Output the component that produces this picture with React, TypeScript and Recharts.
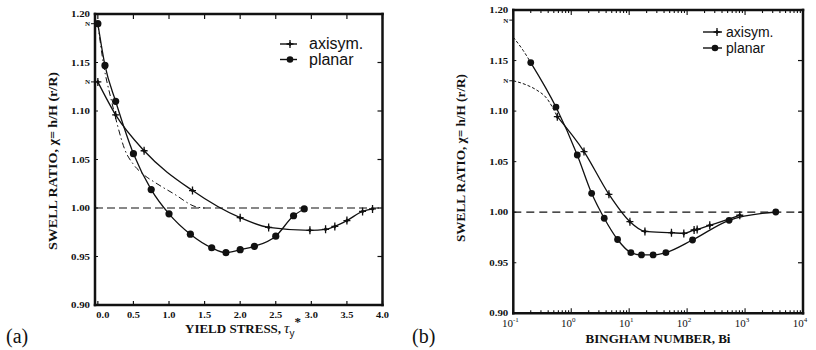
import React from 'react';
import { ComposedChart, Line, XAxis, YAxis, ReferenceLine, Legend } from 'recharts';

// ---------- Panel (a): swell ratio vs yield stress ----------
const A_PLANAR_X = [0, 0.1, 0.25, 0.5, 0.75, 1.0, 1.3, 1.6, 1.8, 2.0, 2.2, 2.5, 2.75, 2.9];
const A_PLANAR_Y = [1.19, 1.147, 1.11, 1.056, 1.019, 0.994, 0.973, 0.959, 0.954, 0.957, 0.9605, 0.971, 0.992, 0.999];
const A_AXI_X = [0, 0.25, 0.65, 1.33, 2.0, 2.4, 2.98, 3.2, 3.33, 3.5, 3.72, 3.86];
const A_AXI_Y = [1.13, 1.096, 1.059, 1.018, 0.99, 0.98, 0.977, 0.978, 0.981, 0.987, 0.9965, 0.999];
const A_DASHDOT_X = [0, 0.08, 0.19, 0.27, 0.38, 0.5, 0.65, 0.81, 1.06, 1.39, 1.5];
const A_DASHDOT_Y = [1.19, 1.148, 1.111, 1.087, 1.06, 1.045, 1.034, 1.026, 1.015, 1.001, 1.0];
const A_X_TICKS = [0, 0.5, 1.0, 1.5, 2.0, 2.5, 3.0, 3.5, 4.0];

// ---------- Panel (b): swell ratio vs Bingham number ----------
const B_PLANAR_X = [0.2, 0.545, 1.27, 2.25, 3.71, 6.3, 10.7, 16.3, 25.9, 43, 124, 530, 3390];
const B_PLANAR_Y = [1.148, 1.104, 1.0566, 1.0187, 0.994, 0.973, 0.96, 0.9577, 0.9577, 0.96, 0.9725, 0.992, 1.0002];
const B_AXI_X = [0.575, 1.66, 4.47, 10.3, 18.7, 53.7, 87.7, 132, 149, 246, 811];
const B_AXI_Y = [1.0945, 1.06, 1.0177, 0.9906, 0.981, 0.9797, 0.979, 0.9824, 0.983, 0.987, 0.997];
const B_EXT_PLANAR_X = [0.1, 0.148, 0.2];
const B_EXT_PLANAR_Y = [1.173, 1.16, 1.148];
const B_EXT_AXI_X = [0.1, 0.17, 0.253, 0.377, 0.575];
const B_EXT_AXI_Y = [1.13, 1.1258, 1.1208, 1.1127, 1.0945];
const B_DECADES = [0.1, 1, 10, 100, 1000, 10000];
const B_EXPONENTS = ['-1', '0', '1', '2', '3', '4'];

// ---------- shared ----------
const Y_TICKS = [0.9, 0.95, 1.0, 1.05, 1.1, 1.15, 1.2];
const N_TICKS = [1.13, 1.19];
const SERIES_NAMES = ['axisym.', 'planar'];

const zip = (xs: number[], ys: number[]) => xs.map((x, i) => ({ x, y: ys[i] }));

const aPlanar = zip(A_PLANAR_X, A_PLANAR_Y);
const aAxi = zip(A_AXI_X, A_AXI_Y);
const aDashDot = zip(A_DASHDOT_X, A_DASHDOT_Y);
const bPlanar = zip(B_PLANAR_X, B_PLANAR_Y);
const bAxi = zip(B_AXI_X, B_AXI_Y);
const bExtPlanar = zip(B_EXT_PLANAR_X, B_EXT_PLANAR_Y);
const bExtAxi = zip(B_EXT_AXI_X, B_EXT_AXI_Y);

const bAllTicks: number[] = [];
B_DECADES.forEach((d, i) => {
  bAllTicks.push(d);
  if (i < B_DECADES.length - 1) for (let k = 2; k <= 9; k++) bAllTicks.push(+(d * k).toPrecision(3));
});

const INK = '#111';
const SERIF = "'Liberation Serif', 'Times New Roman', serif";
const SANS = "'Liberation Sans', Arial, sans-serif";
const FRAME = { stroke: INK, strokeWidth: 2.5, strokeLinecap: 'square' as const };

const PlusMark = ({ cx, cy }: { cx: number; cy: number }) => (
  <g>
    <path d={`M${cx},${cy - 4} L${cx},${cy + 4} M${cx - 3.5},${cy} L${cx + 3.5},${cy}`} stroke={INK} strokeWidth={1.3} />
    <path d={`M${cx},${cy - 2.3} L${cx + 2},${cy} L${cx},${cy + 2.3} L${cx - 2},${cy} Z`} fill={INK} />
  </g>
);
const CircleMark = ({ cx, cy, r }: { cx: number; cy: number; r: number }) => <circle cx={cx} cy={cy} r={r} fill={INK} />;

const plusDot = (p: any) => <PlusMark key={`p${p.index}`} cx={p.cx} cy={p.cy} />;
const circDotA = (p: any) => <CircleMark key={`c${p.index}`} cx={p.cx} cy={p.cy} r={3.6} />;
const circDotB = (p: any) => <CircleMark key={`c${p.index}`} cx={p.cx} cy={p.cy} r={3.4} />;

const isN = (v: number) => N_TICKS.some((n) => Math.abs(n - v) < 1e-6);

const LeftTick = (props: any) => {
  const { x, y, payload } = props;
  const v = payload.value as number;
  if (isN(v)) {
    return (
      <g>
        <line x1={x - 4} x2={x} y1={y} y2={y} stroke={INK} strokeWidth={1} />
        <text x={x - 5} y={y} dy={2.5} textAnchor="end" fontSize={7} fontWeight="bold" fontFamily={SERIF} fill={INK}>N</text>
      </g>
    );
  }
  return (
    <g>
      <line x1={x} x2={x + 3} y1={y} y2={y} stroke={INK} strokeWidth={1} />
      <text x={x - 5} y={y} dy={3} textAnchor="end" fontSize={9} fontWeight="bold" fontFamily={SERIF} fill={INK} textLength={19} lengthAdjust="spacingAndGlyphs">{v.toFixed(2)}</text>
    </g>
  );
};

const RightTick = (props: any) => {
  const { x, y } = props;
  return <line x1={x - 5} x2={x} y1={y} y2={y} stroke={INK} strokeWidth={1.2} />;
};

const TopTickA = (props: any) => {
  const { x, y } = props;
  return <line x1={x} x2={x} y1={y} y2={y + 5} stroke={INK} strokeWidth={1.2} />;
};

const BottomTickA = (props: any) => {
  const { x, y, payload } = props;
  const v = payload.value as number;
  const dx = v === 0 ? 5 : 0;
  return (
    <g>
      <line x1={x} x2={x} y1={y} y2={y - 4} stroke={INK} strokeWidth={1.2} />
      <text x={x + dx} y={y + 13} textAnchor="middle" fontSize={9} fontWeight="bold" fontFamily={SERIF} fill={INK} textLength={13} lengthAdjust="spacingAndGlyphs">{v.toFixed(1)}</text>
    </g>
  );
};

const isDecade = (v: number) => B_DECADES.some((d) => Math.abs(d - v) / d < 1e-6);

const TopTickB = (props: any) => {
  const { x, y, payload } = props;
  const len = isDecade(payload.value) ? 5 : 3;
  return <line x1={x} x2={x} y1={y} y2={y + len} stroke={INK} strokeWidth={1.1} />;
};

const BottomTickB = (props: any) => {
  const { x, y, payload } = props;
  const v = payload.value as number;
  const di = B_DECADES.findIndex((d) => Math.abs(d - v) / d < 1e-6);
  const len = di >= 0 ? 5 : 3;
  return (
    <g>
      <line x1={x} x2={x} y1={y} y2={y - len} stroke={INK} strokeWidth={1.1} />
      {di >= 0 && (
        <text x={x - 3} y={y + 13.5} textAnchor="middle" fontSize={11} fontFamily={SERIF} fill={INK}>
          10<tspan dy={-5} fontSize={7}>{B_EXPONENTS[di]}</tspan>
        </text>
      )}
    </g>
  );
};

const LegendA = () => (
  <svg width={110} height={40} style={{ display: 'block', overflow: 'visible' }}>
    <line x1={2} x2={19} y1={10} y2={10} stroke={INK} strokeWidth={1.4} />
    <PlusMark cx={12} cy={10} />
    <text x={31} y={15} fontSize={16} fontFamily={SANS} fill={INK}>{SERIES_NAMES[0]}</text>
    <line x1={2} x2={19} y1={25.5} y2={25.5} stroke={INK} strokeWidth={1.4} />
    <CircleMark cx={12} cy={25.5} r={3.3} />
    <text x={31} y={30.5} fontSize={16} fontFamily={SANS} fill={INK}>{SERIES_NAMES[1]}</text>
  </svg>
);

const LegendB = () => (
  <svg width={110} height={40} style={{ display: 'block', overflow: 'visible' }}>
    <line x1={2} x2={21} y1={10} y2={10} stroke={INK} strokeWidth={1.4} />
    <PlusMark cx={16} cy={10} />
    <text x={25} y={14.5} fontSize={14} fontFamily={SANS} fill={INK}>{SERIES_NAMES[0]}</text>
    <line x1={2} x2={21} y1={26} y2={26} stroke={INK} strokeWidth={1.4} />
    <CircleMark cx={14} cy={26} r={3.3} />
    <text x={25} y={30.5} fontSize={14} fontFamily={SANS} fill={INK}>{SERIES_NAMES[1]}</text>
  </svg>
);

const yTicksAll = [...Y_TICKS, ...N_TICKS].sort((a, b) => a - b);

const PanelA = () => (
  <ComposedChart width={410} height={350} margin={{ left: 94, right: 26.5, top: 13, bottom: 44 }}>
    <XAxis xAxisId="b" type="number" dataKey="x" domain={[-0.04, 4.0]} ticks={A_X_TICKS} interval={0} allowDataOverflow
      height={1} tickSize={0} tickMargin={0} tickLine={false} axisLine={FRAME} tick={BottomTickA} />
    <XAxis xAxisId="t" orientation="top" type="number" dataKey="x" domain={[-0.04, 4.0]} ticks={A_X_TICKS} interval={0} allowDataOverflow
      height={1} tickSize={0} tickMargin={0} tickLine={false} axisLine={FRAME} tick={TopTickA} />
    <YAxis yAxisId="l" type="number" domain={[0.9, 1.2]} ticks={yTicksAll} interval={0} allowDataOverflow
      width={1} tickSize={0} tickMargin={0} tickLine={false} axisLine={FRAME} tick={LeftTick} />
    <YAxis yAxisId="r" orientation="right" type="number" domain={[0.9, 1.2]} ticks={Y_TICKS} interval={0} allowDataOverflow
      width={1} tickSize={0} tickMargin={0} tickLine={false} axisLine={FRAME} tick={RightTick} />
    <ReferenceLine xAxisId="b" yAxisId="l" y={1.0} stroke={INK} strokeWidth={1.2} strokeDasharray="8 4" />
    <Line xAxisId="b" yAxisId="l" data={aDashDot} dataKey="y" type="monotone" stroke={INK} strokeWidth={1}
      strokeDasharray="6 3 1.5 3" dot={false} isAnimationActive={false} legendType="none" />
    <Line xAxisId="b" yAxisId="l" data={aAxi} dataKey="y" name={SERIES_NAMES[0]} type="monotone" stroke={INK} strokeWidth={1.3}
      dot={plusDot} isAnimationActive={false} />
    <Line xAxisId="b" yAxisId="l" data={aPlanar} dataKey="y" name={SERIES_NAMES[1]} type="monotone" stroke={INK} strokeWidth={1.3}
      dot={circDotA} isAnimationActive={false} />
    <Legend layout="vertical" align="center" verticalAlign="middle" content={<LegendA />}
      wrapperStyle={{ position: 'absolute', left: 278, top: 34, width: 110, height: 40 }} />
  </ComposedChart>
);

const PanelB = () => (
  <ComposedChart width={406} height={350} margin={{ left: 102.3, right: 12, top: 9, bottom: 35.7 }}>
    <XAxis xAxisId="b" type="number" scale="log" dataKey="x" domain={[0.1, 10000]} ticks={bAllTicks} interval={0} allowDataOverflow
      height={1} tickSize={0} tickMargin={0} tickLine={false} axisLine={FRAME} tick={BottomTickB} />
    <XAxis xAxisId="t" orientation="top" type="number" scale="log" dataKey="x" domain={[0.1, 10000]} ticks={bAllTicks} interval={0} allowDataOverflow
      height={1} tickSize={0} tickMargin={0} tickLine={false} axisLine={FRAME} tick={TopTickB} />
    <YAxis yAxisId="l" type="number" domain={[0.9, 1.2]} ticks={yTicksAll} interval={0} allowDataOverflow
      width={1} tickSize={0} tickMargin={0} tickLine={false} axisLine={FRAME} tick={LeftTick} />
    <YAxis yAxisId="r" orientation="right" type="number" domain={[0.9, 1.2]} ticks={Y_TICKS} interval={0} allowDataOverflow
      width={1} tickSize={0} tickMargin={0} tickLine={false} axisLine={FRAME} tick={RightTick} />
    <ReferenceLine xAxisId="b" yAxisId="l" y={1.0} stroke={INK} strokeWidth={1.2} strokeDasharray="8 5" />
    <Line xAxisId="b" yAxisId="l" data={bExtPlanar} dataKey="y" type="monotone" stroke={INK} strokeWidth={1}
      strokeDasharray="3 2" dot={false} isAnimationActive={false} legendType="none" />
    <Line xAxisId="b" yAxisId="l" data={bExtAxi} dataKey="y" type="monotone" stroke={INK} strokeWidth={1}
      strokeDasharray="3 2" dot={false} isAnimationActive={false} legendType="none" />
    <Line xAxisId="b" yAxisId="l" data={bAxi} dataKey="y" name={SERIES_NAMES[0]} type="monotone" stroke={INK} strokeWidth={1.3}
      dot={plusDot} isAnimationActive={false} />
    <Line xAxisId="b" yAxisId="l" data={bPlanar} dataKey="y" name={SERIES_NAMES[1]} type="monotone" stroke={INK} strokeWidth={1.3}
      dot={circDotB} isAnimationActive={false} />
    <Legend layout="vertical" align="center" verticalAlign="middle" content={<LegendB />}
      wrapperStyle={{ position: 'absolute', left: 291, top: 22, width: 110, height: 40 }} />
  </ComposedChart>
);

const Titles = () => (
  <svg width={816} height={350} style={{ position: 'absolute', left: 0, top: 0, pointerEvents: 'none' }}>
    {/* panel (a) */}
    <text x={185} y={333} fontSize={13} fontWeight="bold" fontFamily={SERIF} fill={INK}>
      YIELD STRESS,
      <tspan dx={3} fontSize={15} fontStyle="italic" fontWeight="normal">τ</tspan>
      <tspan dy={4} fontSize={10} fontWeight="normal" fontFamily={SANS}>y</tspan>
      <tspan dy={-11} fontSize={13}>*</tspan>
    </text>
    <text transform="translate(57,161) rotate(-90)" textAnchor="middle" fontSize={12.5} fontWeight="bold" fontFamily={SERIF} fill={INK}
      textLength={178} lengthAdjust="spacingAndGlyphs">SWELL RATIO, χ= h/H (r/R)</text>
    <text x={6} y={343} fontSize={20} fontFamily={SERIF} fill={INK}>(a)</text>
    {/* panel (b) */}
    <text x={658} y={342.5} textAnchor="middle" fontSize={12.5} fontWeight="bold" fontFamily={SERIF} fill={INK}
      textLength={145} lengthAdjust="spacingAndGlyphs">BINGHAM NUMBER, Bi</text>
    <text transform="translate(465,158) rotate(-90)" textAnchor="middle" fontSize={12} fontWeight="bold" fontFamily={SERIF} fill={INK}
      textLength={168} lengthAdjust="spacingAndGlyphs">SWELL RATIO, χ= h/H (r/R)</text>
    <text x={412} y={343} fontSize={20} fontFamily={SERIF} fill={INK}>(b)</text>
  </svg>
);

export default function App() {
  return (
    <div style={{ position: 'absolute', left: 0, top: 0, width: 816, height: 350, background: '#fff' }}>
      <div style={{ position: 'absolute', left: 0, top: 0 }}>
        <PanelA />
      </div>
      <div style={{ position: 'absolute', left: 410, top: 0 }}>
        <PanelB />
      </div>
      <Titles />
    </div>
  );
}
